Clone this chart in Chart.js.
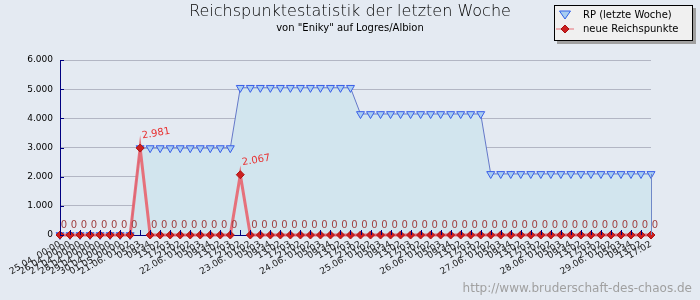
<!DOCTYPE html>
<html><head><meta charset="utf-8">
<script src="https://cdn.jsdelivr.net/npm/chart.js@4.4.1/dist/chart.umd.min.js"></script>
<style>
html,body{margin:0;padding:0;background:#e4eaf2;}
#wrap{position:relative;width:700px;height:300px;overflow:hidden;background:#e4eaf2;}
#c{position:absolute;left:0;top:0;}
#title{position:absolute;left:0;width:700px;top:1px;text-align:center;font:200 16px "DejaVu Sans";color:#000;white-space:nowrap;}
#subtitle{position:absolute;left:0;width:700px;top:22px;text-align:center;font:10px "DejaVu Sans";color:#000;white-space:nowrap;}
#legend{position:absolute;left:554px;top:5px;width:137px;height:34px;background:#f0f0f0;border:1px solid #000;box-shadow:3px 3px 0 #a0a0a0;font:10px "DejaVu Sans";color:#000;}
#legend .it{position:absolute;left:0;height:14px;white-space:nowrap;}
#legend svg{position:absolute;left:0;top:0;}
#legend span{position:absolute;left:28px;top:0;line-height:14px;}
#wm{position:absolute;right:8px;top:281px;font:12px "DejaVu Sans";color:#a0a0a0;white-space:nowrap;}
</style></head>
<body>
<div id="wrap">
<canvas id="c" width="700" height="300"></canvas>
<div id="title">Reichspunktestatistik der letzten Woche</div>
<div id="subtitle">von "Eniky" auf Logres/Albion</div>
<div id="legend">
 <div class="it" style="top:2px;width:137px"><svg width="28" height="14"><polygon points="4.5,3 15.5,3 10,11" fill="#a8cdf0" stroke="#3060e8" stroke-width="1"/></svg><span>RP (letzte Woche)</span></div>
 <div class="it" style="top:16px;width:137px"><svg width="28" height="14"><line x1="1" y1="7" x2="19" y2="7" stroke="#e87078" stroke-width="1"/><polygon points="10,3 14,7 10,11 6,7" fill="#cc2020" stroke="#aa1010" stroke-width="1"/></svg><span>neue Reichspunkte</span></div>
</div>
<div id="wm">http://www.bruderschaft-des-chaos.de</div>
</div>
<script>
const categories = [
 "25.04. 00:00","26.04. 00:00","27.04. 00:00","28.04. 00:00","29.04. 00:00","30.04. 00:00","01.05. 00:00",
 "21.06. 01:02","05:03","09:34","13:02","17:03","21:02",
 "22.06. 01:02","05:03","09:34","13:02","17:03","21:02",
 "23.06. 01:02","05:03","09:34","13:02","17:03","21:02",
 "24.06. 01:02","05:03","09:34","13:02","17:03","21:02",
 "25.06. 01:02","05:03","09:34","13:02","17:03","21:02",
 "26.06. 01:02","05:03","09:34","13:02","17:03","21:02",
 "27.06. 01:02","05:03","09:34","13:02","17:03","21:02",
 "28.06. 01:02","05:03","09:34","13:02","17:03","21:02",
 "29.06. 01:02","05:03","09:34","13:02","17:02"
];
const rpLastWeek = [
 0,0,0,0,0,0,0,0,
 2981,2981,2981,2981,2981,2981,2981,2981,2981,2981,
 5048,5048,5048,5048,5048,5048,5048,5048,5048,5048,5048,5048,
 4150,4150,4150,4150,4150,4150,4150,4150,4150,4150,4150,4150,4150,
 2095,2095,2095,2095,2095,2095,2095,2095,2095,2095,2095,2095,2095,2095,2095,2095,2095
];
const newRP = [
 0,0,0,0,0,0,0,0,
 2981,0,0,0,0,0,0,0,0,0,
 2067,0,0,0,0,0,0,0,0,0,0,0,
 0,0,0,0,0,0,0,0,0,0,0,0,0,
 0,0,0,0,0,0,0,0,0,0,0,0,0,0,0,0,0
];
const yTicks = [0,1000,2000,3000,4000,5000,6000];

function fmt(v){ return String(Math.round(v)).replace(/\B(?=(\d{3})+(?!\d))/g,'.'); }

const extras = {
 id:'extras',
 afterDatasetsDraw(chart){
  const ctx = chart.ctx, xs = chart.scales.x, ys = chart.scales.y, a = chart.chartArea;
  ctx.save();
  ctx.strokeStyle = '#000080'; ctx.lineWidth = 1;
  ctx.beginPath();
  for (let i=0;i<categories.length;i++){ const x = Math.round(xs.getPixelForValue(i))+0.5; ctx.moveTo(x,a.bottom); ctx.lineTo(x,a.bottom-5); }
  yTicks.forEach(v=>{ const y=Math.round(ys.getPixelForValue(v))+0.5; ctx.moveTo(a.left,y); ctx.lineTo(a.left+4,y); });
  ctx.stroke();
  ctx.strokeStyle = '#7088c8';
  const lx = Math.round(xs.getPixelForValue(categories.length-1))+0.5;
  ctx.beginPath(); ctx.moveTo(lx, ys.getPixelForValue(rpLastWeek[rpLastWeek.length-1])); ctx.lineTo(lx, a.bottom); ctx.stroke();
  const meta = chart.getDatasetMeta(0);
  meta.data.forEach((pt,i)=>{
   const v = newRP[i];
   if (v===0){
    ctx.font = '10px "DejaVu Sans"'; ctx.fillStyle = '#a04040'; ctx.textAlign='center'; ctx.textBaseline='middle';
    ctx.fillText('0', pt.x+4, pt.y-10);
   } else {
    ctx.save();
    ctx.translate(pt.x+2, pt.y-11);
    ctx.rotate(-10*Math.PI/180);
    ctx.font = '10px "DejaVu Sans"'; ctx.fillStyle = '#e83030'; ctx.textAlign='left'; ctx.textBaseline='bottom';
    ctx.fillText(fmt(v), 0, 4);
    ctx.restore();
   }
  });
  ctx.restore();
 }
};

new Chart(document.getElementById('c'), {
 type:'line',
 data:{
  labels: categories,
  datasets:[
   {label:'neue Reichspunkte', data:newRP, borderColor:'rgba(232,100,110,0.9)', borderWidth:3, pointStyle:'rectRot', pointRadius:4, pointBackgroundColor:'#cc2020', pointBorderColor:'#b01515', pointBorderWidth:1, tension:0, fill:false, clip:false},
   {label:'RP (letzte Woche)', data:rpLastWeek, borderColor:'#6478c8', borderWidth:1, backgroundColor:'#d2e5ee', fill:'origin', pointStyle:'triangle', rotation:180, pointRadius:4.6, pointBackgroundColor:'#a8cdf0', pointBorderColor:'#3a5ee8', pointBorderWidth:1, tension:0, clip:false}
  ]
 },
 options:{
  responsive:false, animation:false, devicePixelRatio:1,
  layout:{padding:{top:60,left:0,right:49,bottom:0}},
  plugins:{legend:{display:false}, tooltip:{enabled:false}},
  scales:{
   x:{
    type:'category', offset:false,
    grid:{drawOnChartArea:false, drawTicks:false},
    border:{color:'#000080', width:1},
    ticks:{autoSkip:false, maxRotation:30, minRotation:30, padding:4, color:'#222', font:{family:'DejaVu Sans', size:9}},
    afterFit(s){ s.height = 65; s.paddingLeft = 0; s.paddingRight = 0; }
   },
   y:{
    min:0, max:6000,
    afterBuildTicks(s){ s.ticks = yTicks.map(v=>({value:v})); },
    grid:{color:'#b2b6c4', drawTicks:false, lineWidth:1},
    border:{color:'#000080', width:1},
    ticks:{padding:7, color:'#000', font:{family:'DejaVu Sans', size:9}, callback:(v)=>fmt(v)},
    afterFit(s){ s.width = 60; s.paddingTop = 0; s.paddingBottom = 0; }
   }
  }
 },
 plugins:[extras]
});
</script>
</body></html>
